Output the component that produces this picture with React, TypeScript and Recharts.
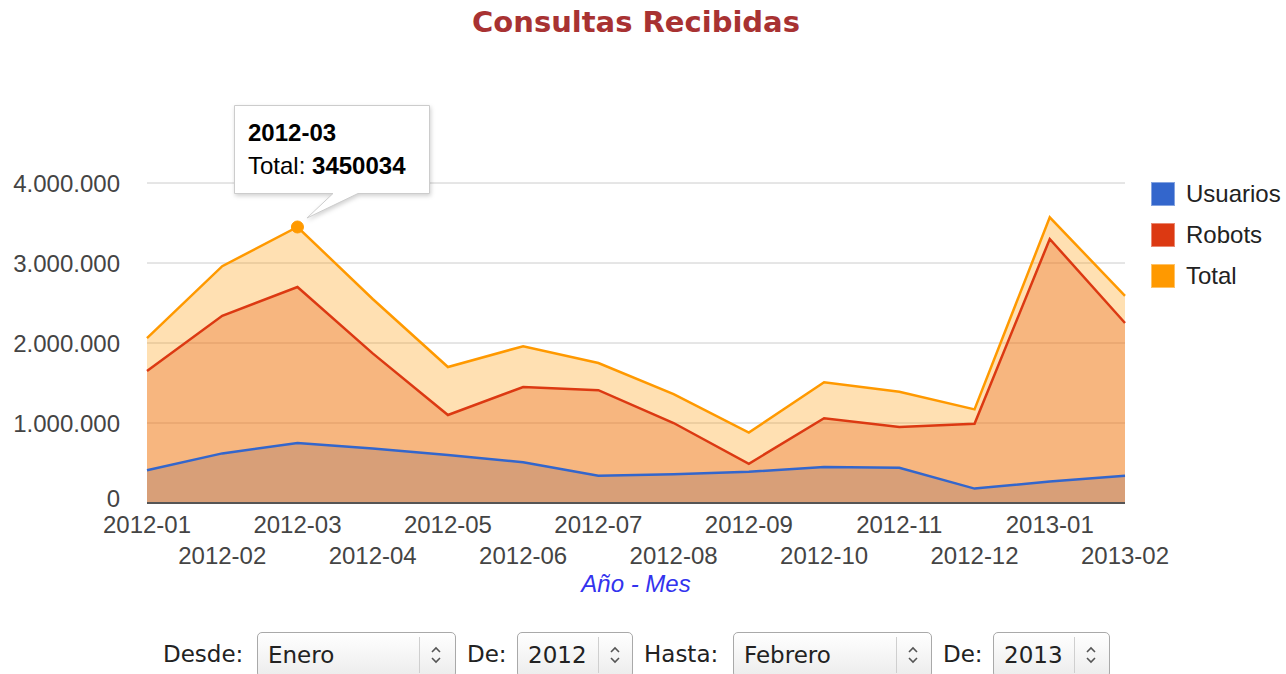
import React from 'react';
import { ComposedChart, Area, Line, XAxis, YAxis, CartesianGrid, Tooltip, Legend } from 'recharts';

const months = ['2012-01', '2012-02', '2012-03', '2012-04', '2012-05', '2012-06', '2012-07', '2012-08', '2012-09', '2012-10', '2012-11', '2012-12', '2013-01', '2013-02'];
const usuarios = [410000, 620000, 750000, 680000, 600000, 510000, 340000, 360000, 390000, 450000, 440000, 180000, 270000, 340000];
const robots = [1650000, 2340000, 2700034, 1870000, 1100000, 1450000, 1410000, 1000000, 490000, 1060000, 950000, 990000, 3300000, 2250000];
const total = [2060000, 2960000, 3450034, 2550000, 1700000, 1960000, 1750000, 1360000, 880000, 1510000, 1390000, 1170000, 3570000, 2590000];
const yTicks = [0, 1000000, 2000000, 3000000, 4000000];
const seriesNames = ['Usuarios', 'Robots', 'Total'];
const seriesKeys = ['usuarios', 'robots', 'total'];
const seriesColors = ['#3366cc', '#dc3912', '#ff9900'];
const highlightIndex = 2;

const data = months.map((m, i) => ({ mes: m, usuarios: usuarios[i], robots: robots[i], total: total[i] }));

const SANS = '"Liberation Sans", Arial, sans-serif';
const DV = '"DejaVu Sans", sans-serif';

const fmt = (v: number) => String(v).replace(/\B(?=(\d{3})+(?!\d))/g, '.');

const XTick = (props: any) => {
  const { x, y, payload, index } = props;
  const dy = index % 2 === 0 ? 30 : 61;
  return (
    <text x={x} y={y + dy} textAnchor="middle" fontFamily={SANS} fontSize={24} fill="#444">
      {payload.value}
    </text>
  );
};

const YTick = (props: any) => {
  const { x, y, payload } = props;
  const shift = payload.value === 0 ? -5 : 0;
  return (
    <text x={x} y={y + shift} dy="0.355em" textAnchor="end" fontFamily={SANS} fontSize={24} fill="#444">
      {fmt(payload.value)}
    </text>
  );
};

const AxisTitle = (props: any) => {
  const vb = props.viewBox || {};
  return (
    <text x={vb.x + vb.width / 2} y={vb.y + 89} textAnchor="middle" fontFamily={SANS} fontSize={24} fontStyle="italic" fill="#3333ee">
      Año - Mes
    </text>
  );
};

const Callout = (props: any) => {
  const { active, label } = props;
  if (!active) return null;
  const i = months.indexOf(label);
  if (i < 0) return null;
  return (
    <div style={{ position: 'relative', width: 200, height: 118 }}>
      <svg width={200} height={118} style={{ position: 'absolute', left: 0, top: 0, overflow: 'visible', filter: 'drop-shadow(1px 2px 2px rgba(0,0,0,0.18))' }}>
        <path d="M0.5,0.5 H195.5 V88.5 H124 L73,113 L99,88.5 H0.5 Z" fill="#fff" stroke="#cccccc" strokeWidth={1} />
      </svg>
      <div style={{ position: 'absolute', left: 14, top: 14, fontFamily: SANS, fontSize: 24, fontWeight: 'bold', color: '#000', lineHeight: '28px', whiteSpace: 'nowrap' }}>
        {label}
      </div>
      <div style={{ position: 'absolute', left: 14, top: 47, fontFamily: SANS, fontSize: 24, color: '#000', lineHeight: '28px', whiteSpace: 'nowrap' }}>
        {seriesNames[2]}: <b>{total[i]}</b>
      </div>
    </div>
  );
};

const LegendContent = () => (
  <div style={{ fontFamily: SANS, fontSize: 24, color: '#222' }}>
    {seriesNames.map((n, i) => (
      <div key={n} style={{ display: 'flex', alignItems: 'center', height: 41 }}>
        <div style={{ width: 24, height: 24, background: seriesColors[i], marginRight: 11, boxSizing: 'border-box', border: '1px solid rgba(255,255,255,0.4)' }} />
        <span style={{ lineHeight: '24px' }}>{n}</span>
      </div>
    ))}
  </div>
);

const Chevrons = () => (
  <svg width={14} height={20}>
    <path d="M3,7 L7,3 L11,7" fill="none" stroke="#555" strokeWidth={1.6} />
    <path d="M3,13 L7,17 L11,13" fill="none" stroke="#555" strokeWidth={1.6} />
  </svg>
);

const SelectBox = ({ left, width, divider, text }: { left: number; width: number; divider: number; text: string }) => (
  <div style={{ position: 'absolute', left, top: 632, width, height: 46, boxSizing: 'border-box', border: '1px solid #a9a9a9', borderRadius: 5, background: 'linear-gradient(#ffffff, #ececec)' }}>
    <span style={{ position: 'absolute', left: 10, top: 9, fontFamily: DV, fontSize: 23, color: '#222', lineHeight: '27px', whiteSpace: 'nowrap' }}>{text}</span>
    <div style={{ position: 'absolute', left: divider, top: 4, height: 36, width: 1, background: '#cfcfcf' }} />
    <div style={{ position: 'absolute', left: divider + 10, top: 12 }}>
      <Chevrons />
    </div>
  </div>
);

const FormLabel = ({ left, text }: { left: number; text: string }) => (
  <span style={{ position: 'absolute', left, top: 641, fontFamily: DV, fontSize: 23, color: '#222', lineHeight: '27px', whiteSpace: 'nowrap' }}>{text}</span>
);

export default function App() {
  return (
    <div style={{ position: 'absolute', left: 0, top: 0, width: 1286, height: 674, overflow: 'hidden', background: '#fff' }}>
      <div style={{ position: 'absolute', left: 0, width: 1272, top: 5, textAlign: 'center', fontFamily: DV, fontWeight: 'bold', fontSize: 29, color: '#a83232', lineHeight: '34px' }}>
        Consultas Recibidas
      </div>
      <div style={{ position: 'absolute', left: 0, top: 0 }}>
        <ComposedChart width={1286} height={620} data={data} margin={{ top: 183, right: 161, bottom: 37, left: 0 }}>
          <CartesianGrid vertical={false} stroke="#cccccc" strokeWidth={1} />
          <XAxis
            dataKey="mes"
            scale="point"
            interval={0}
            height={80}
            tickSize={0}
            tickMargin={0}
            tickLine={false}
            axisLine={{ stroke: '#555', strokeWidth: 2 }}
            tick={<XTick />}
            label={<AxisTitle />}
          />
          <YAxis
            width={147}
            domain={[0, 4000000]}
            ticks={yTicks}
            tickSize={0}
            tickMargin={27}
            axisLine={false}
            tickLine={false}
            tick={<YTick />}
          />
          {seriesKeys.map((k, i) => (
            <Area
              key={'a' + k}
              type="linear"
              dataKey={k}
              name={seriesNames[i]}
              stroke="none"
              fill={seriesColors[i]}
              fillOpacity={0.3}
              activeDot={false}
              isAnimationActive={false}
              legendType="none"
            />
          ))}
          {seriesKeys.map((k, i) => (
            <Line
              key={'l' + k}
              type="linear"
              dataKey={k}
              name={seriesNames[i]}
              stroke={seriesColors[i]}
              strokeWidth={2.5}
              dot={false}
              activeDot={i === 2 ? { r: 6, fill: seriesColors[2], stroke: seriesColors[2], strokeWidth: 1 } : false}
              isAnimationActive={false}
            />
          ))}
          <Legend
            layout="vertical"
            align="center"
            verticalAlign="middle"
            content={<LegendContent />}
            wrapperStyle={{ left: 1151, top: 173, width: 135 }}
          />
          <Tooltip
            defaultIndex={highlightIndex}
            cursor={false}
            isAnimationActive={false}
            position={{ x: 234, y: 105 }}
            content={<Callout />}
            wrapperStyle={{ zIndex: 10 }}
          />
        </ComposedChart>
      </div>
      <FormLabel left={163} text="Desde:" />
      <SelectBox left={257} width={199} divider={161} text="Enero" />
      <FormLabel left={467} text="De:" />
      <SelectBox left={517} width={116} divider={80} text="2012" />
      <FormLabel left={644} text="Hasta:" />
      <SelectBox left={733} width={199} divider={162} text="Febrero" />
      <FormLabel left={943} text="De:" />
      <SelectBox left={993} width={117} divider={80} text="2013" />
    </div>
  );
}
